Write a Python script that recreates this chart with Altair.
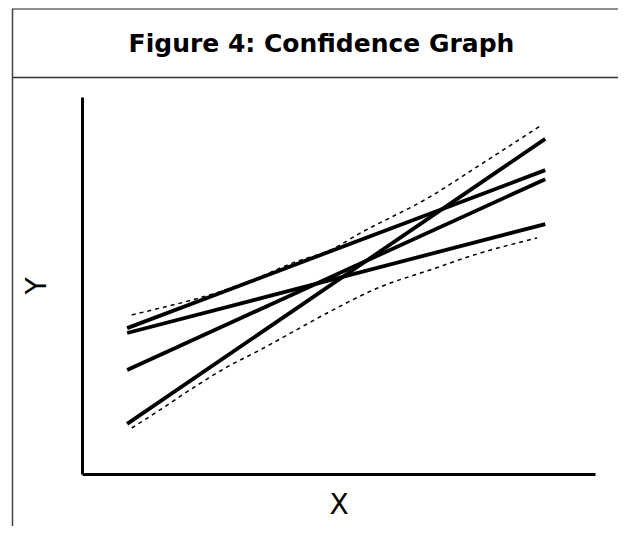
import altair as alt
import pandas as pd

TITLE = "Figure 4: Confidence Graph"

# Solid regression lines (two end points each), values on a 0-100 scale
solid_names = ["A", "B", "C", "D"]
solid_x = [8.8, 90.3]
solid_y = {
    "A": [13.3, 88.9],
    "B": [27.6, 78.2],
    "C": [38.7, 80.6],
    "D": [37.4, 66.3],
}

# Confidence band (dashed) curves
upper_x = [9.7, 15.2, 21.6, 32.2, 41.1, 49.3, 53.6, 67.8, 77.6, 89.3]
upper_y = [42.2, 44.0, 46.2, 50.9, 56.0, 60.0, 63.4, 73.5, 82.0, 92.3]
lower_x = [9.7, 15.2, 21.6, 28.3, 34.7, 41.1, 47.8, 58.1, 67.8, 77.6, 88.7]
lower_y = [12.2, 17.0, 22.8, 28.4, 32.9, 37.7, 42.7, 49.6, 54.1, 58.6, 62.6]

solid_rows = []
for n in solid_names:
    for xv, yv in zip(solid_x, solid_y[n]):
        solid_rows.append({"series": n, "x": xv, "y": yv})
solid_df = pd.DataFrame(solid_rows)

band_rows = []
for xv, yv in zip(upper_x, upper_y):
    band_rows.append({"series": "upper", "x": xv, "y": yv})
for xv, yv in zip(lower_x, lower_y):
    band_rows.append({"series": "lower", "x": xv, "y": yv})
band_df = pd.DataFrame(band_rows)

W, H = 513, 377

xs = alt.Scale(domain=[0, 100], nice=False, zero=False)
ys = alt.Scale(domain=[0, 100], nice=False, zero=False)

x_axis = alt.Axis(
    title="X", ticks=False, labels=False, grid=False,
    domainColor="black", domainWidth=3,
    titleFont="DejaVu Sans", titleFontSize=28, titleFontWeight="normal",
    titleColor="black", titleX=W / 2, titleY=31,
    titleBaseline="middle", titleAlign="center",
)
y_axis = alt.Axis(
    title="Y", ticks=False, labels=False, grid=False,
    domainColor="black", domainWidth=3,
    titleFont="DejaVu Sans", titleFontSize=28, titleFontWeight="normal",
    titleColor="black", titleX=-45, titleY=H / 2, titleAngle=270,
    titleBaseline="middle", titleAlign="center",
)

solid = alt.Chart(solid_df).mark_line(color="black", strokeWidth=3.8).encode(
    x=alt.X("x:Q", scale=xs, axis=x_axis),
    y=alt.Y("y:Q", scale=ys, axis=y_axis),
    detail="series:N",
)

bands = alt.Chart(band_df).mark_line(
    color="black", strokeWidth=1.5, strokeDash=[4, 4], interpolate="monotone"
).encode(
    x=alt.X("x:Q", scale=xs),
    y=alt.Y("y:Q", scale=ys),
    detail="series:N",
)

one = pd.DataFrame({"k": [0]})

# Frame of the figure box (decoration, pixel positions relative to plot)
frame_top = alt.Chart(one).mark_rule(color="#222", strokeWidth=1.2).encode(
    x=alt.value(-70), x2=alt.value(W + 40), y=alt.value(-88)
)
frame_mid = alt.Chart(one).mark_rule(color="#333", strokeWidth=1.6).encode(
    x=alt.value(-70), x2=alt.value(W + 40), y=alt.value(-19.5)
)
frame_left = alt.Chart(one).mark_rule(color="#444", strokeWidth=1.5).encode(
    x=alt.value(-69.5), y=alt.value(-88), y2=alt.value(H + 70)
)

title = alt.Chart(one).mark_text(
    text=TITLE, font="DejaVu Sans", fontSize=25, fontWeight="bold",
    color="black", align="center", baseline="alphabetic",
).encode(x=alt.value(W / 2 - 17), y=alt.value(-45))

chart = alt.layer(frame_top, frame_mid, frame_left, title, bands, solid).properties(
    width=W,
    height=H,
    autosize=alt.AutoSizeParams(type="none"),
    padding={"left": 74, "top": 89, "right": 23, "bottom": 52},
).configure_view(stroke="white", strokeWidth=0)

chart.save("out.html", embed_options={"renderer": "svg", "actions": False})
